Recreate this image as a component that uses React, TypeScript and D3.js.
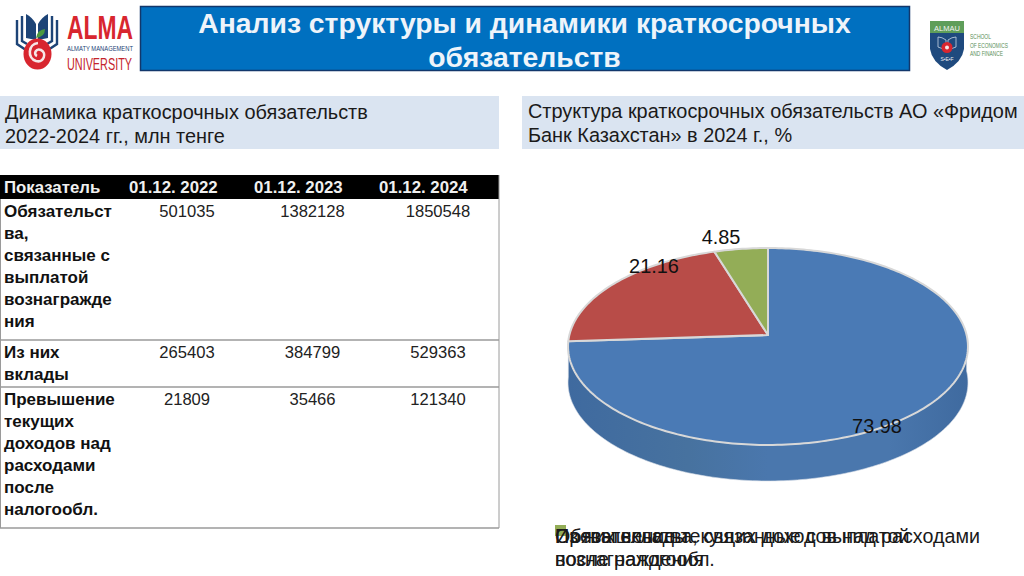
import * as d3 from 'd3';
import { useRef, useEffect } from 'react';

const FONT = '"Liberation Sans", Arial, sans-serif';

const titleLines = ['Анализ структуры и динамики краткосрочных', 'обязательств'];
const leftHeading = ['Динамика краткосрочных обязательств', '2022-2024 гг., млн тенге'];
const rightHeading = ['Структура краткосрочных обязательств АО «Фридом', 'Банк Казахстан» в 2024 г., %'];

const tableHeader = ['Показатель', '01.12. 2022', '01.12. 2023', '01.12. 2024'];
const rowLabels = [
  ['Обязательст', 'ва,', 'связанные с', 'выплатой', 'вознагражде', 'ния'],
  ['Из них', 'вклады'],
  ['Превышение', 'текущих', 'доходов над', 'расходами', 'после', 'налогообл.'],
];
const values2022 = [501035, 265403, 21809];
const values2023 = [1382128, 384799, 35466];
const values2024 = [1850548, 529363, 121340];

const pieValues = [73.98, 21.16, 4.85];
const pieColors = ['#4a7ab5', '#b84c48', '#93ad57'];
const legendLabels = [
  ['Обязательства, связанные с выплатой', 'вознаграждения'],
  ['Из них вклады', ''],
  ['Превышение текущих доходов над расходами', 'после налогообл.'],
];

export default function App() {
  const svgRef = useRef<SVGSVGElement | null>(null);

  useEffect(() => {
    const svg = d3.select(svgRef.current).attr('width', 1024).attr('height', 576);
    svg.selectAll('*').remove();
    svg.append('rect').attr('width', 1024).attr('height', 576).attr('fill', '#fff');

    const text = (x: number, y: number, s: string, size: number, opts: any = {}) =>
      svg
        .append('text')
        .attr('x', x)
        .attr('y', y)
        .attr('font-family', opts.family ?? FONT)
        .attr('font-size', size)
        .attr('font-weight', opts.weight ?? 'normal')
        .attr('fill', opts.fill ?? '#1a1a1a')
        .attr('text-anchor', opts.anchor ?? 'start')
        .text(s);

    /* -- Шапка ---------------------------------------------------------------- */
    svg
      .append('rect')
      .attr('x', 140.5)
      .attr('y', 6.5)
      .attr('width', 769)
      .attr('height', 64)
      .attr('fill', '#0070c0')
      .attr('stroke', '#12376b')
      .attr('stroke-width', 1.5);
    titleLines.forEach((t, i) =>
      text(524.5, 33 + i * 34, t, 24 * 1.18, { weight: 'bold', fill: '#eef4fa', anchor: 'middle' }),
    );

    // Логотип слева
    const navy = '#1d4477';
    const book = svg.append('g');
    book.append('path').attr('d', 'M26 14 Q32 17 36 24 L36 40 L26 38 Z').attr('fill', navy);
    book.append('path').attr('d', 'M48 14 Q42 17 38 24 L38 40 L48 38 Z').attr('fill', navy);
    [
      'M17 20 V44 L26 50',
      'M22 16 V41 L27 44',
      'M52 16 V41 L47 44',
      'M57 20 V44 L48 50',
    ].forEach((d) =>
      book.append('path').attr('d', d).attr('fill', 'none').attr('stroke', navy).attr('stroke-width', 2.4),
    );
    book.append('ellipse').attr('cx', 37.5).attr('cy', 54).attr('rx', 14).attr('ry', 15.5).attr('fill', '#d8262f');
    book
      .append('path')
      .attr('d', 'M38 43 C28 44 27 58 36 61 C44 63 47 53 41 50 C36 48 33 54 37 56')
      .attr('fill', 'none')
      .attr('stroke', '#f6e6e6')
      .attr('stroke-width', 2.6);
    book.append('path').attr('d', 'M36 38 Q37 30 45 29 Q45 37 36 38 Z').attr('fill', '#4c9a3f');

    const narrow = '"Liberation Sans Narrow", "Liberation Sans", sans-serif';
    text(67, 39, 'ALMA', 33, { family: narrow, weight: 'bold', fill: '#d8262f' }).attr('textLength', 66).attr('lengthAdjust', 'spacingAndGlyphs');
    text(67, 51, 'ALMATY MANAGEMENT', 8, { family: narrow, fill: navy }).attr('textLength', 66).attr('lengthAdjust', 'spacingAndGlyphs');
    text(67, 70, 'UNIVERSITY', 17, { family: narrow, fill: '#c4242c' }).attr('textLength', 65).attr('lengthAdjust', 'spacingAndGlyphs');

    // Логотип справа
    svg.append('path').attr('d', 'M930 21 H964 V49 Q962 62 947 70 Q932 62 930 49 Z').attr('fill', '#1f4a7e');
    svg.append('path').attr('d', 'M930 21 H964 V33 H930 Z').attr('fill', '#5f9e5a');
    text(947, 31, 'ALMAU', 7.5, { fill: '#f2f2f2', anchor: 'middle' });
    svg
      .append('path')
      .attr('d', 'M938 37 V47 L946 50 V40 Q942 37 938 37 Z M956 37 V47 L948 50 V40 Q952 37 956 37 Z')
      .attr('fill', 'none')
      .attr('stroke', '#c9d6e6')
      .attr('stroke-width', 0.8);
    svg.append('circle').attr('cx', 947).attr('cy', 47.5).attr('r', 5.5).attr('fill', '#d8262f');
    svg.append('circle').attr('cx', 947).attr('cy', 47.5).attr('r', 2).attr('fill', '#f6e6e6');
    text(947, 61, 'S•E•F', 5, { fill: '#e4e9f0', anchor: 'middle' });
    [['SCHOOL', 21], ['OF ECONOMICS', 38], ['AND FINANCE', 33]].forEach(([t, w], i) =>
      text(970, 39 + i * 8.5, t as string, 6.5, { family: narrow, fill: '#5b8f5a' })
        .attr('textLength', w as number)
        .attr('lengthAdjust', 'spacingAndGlyphs'),
    );

    /* -- Подзаголовки --------------------------------------------------------- */
    svg.append('rect').attr('x', 0).attr('y', 96).attr('width', 499).attr('height', 53).attr('fill', '#dae4f1');
    svg.append('rect').attr('x', 522).attr('y', 96).attr('width', 502).attr('height', 53).attr('fill', '#dae4f1');
    leftHeading.forEach((t, i) => text(5, 119 + i * 24, t, 19.9));
    rightHeading.forEach((t, i) => text(528, 118 + i * 24, t, 19.9));

    /* -- Таблица --------------------------------------------------------------- */
    const headerX = [4, 129, 254, 379];
    svg.append('rect').attr('x', 0).attr('y', 175).attr('width', 499).attr('height', 24).attr('fill', '#000');
    tableHeader.forEach((t, i) => text(headerX[i], 193, t, 16.8, { weight: 'bold', fill: '#f0f0f0' }));

    const columnX = d3.scalePoint<number>().domain([0, 1, 2]).range([187, 438]);
    const lineHeight = 22;
    const rowTops = [199, 340, 387];
    const rowBottoms = [340, 387, 528];
    const columns = [values2022, values2023, values2024];
    rowLabels.forEach((lines, r) => {
      lines.forEach((l, i) =>
        text(4, rowTops[r] + 18 + i * lineHeight, l, 17, { weight: 'bold', fill: '#111' }),
      );
      columns.forEach((col, c) =>
        text(columnX(c) ?? 0, rowTops[r] + 18, String(col[r]), 16.6, { anchor: 'middle', fill: '#222' }),
      );
      svg
        .append('line')
        .attr('x1', 0)
        .attr('x2', 499)
        .attr('y1', rowBottoms[r])
        .attr('y2', rowBottoms[r])
        .attr('stroke', '#9a9a9a')
        .attr('stroke-width', 1.5);
    });
    svg
      .append('path')
      .attr('d', 'M0.5 199 V528 M499 175 V528')
      .attr('stroke', '#9a9a9a')
      .attr('fill', 'none');

    /* -- Круговая диаграмма ----------------------------------------------------- */
    // Перспектива: центр круга (вершина секторов) выше центра эллипса
    const cx = 768;
    const apexY = 335;
    const scaleX = 198.6;
    const scaleY = 58;
    const k = -0.1168;
    const depth = 36;
    const project = (a: number): [number, number] => {
      const u = Math.sin(a);
      const v = -Math.cos(a);
      const w = 1 + k * v;
      return [cx + (scaleX * u) / w, (apexY + scaleY * v) / w];
    };
    const sweep = (a0: number, a1: number) => d3.range(a0, a1, 0.02).concat(a1);

    const defs = svg.append('defs');
    const grad = defs.append('linearGradient').attr('id', 'wall');
    [
      [0, '#3f6a9f'],
      [0.3, '#47729f'],
      [0.5, '#4a77ad'],
      [0.8, '#4a77ad'],
      [1, '#3f6a9f'],
    ].forEach(([o, c]) => grad.append('stop').attr('offset', o as number).attr('stop-color', c as string));

    const arcs = d3.pie<number>().sort(null)(pieValues);

    // Боковая стенка: от правого края до конца синего сектора
    const wall = d3
      .area<number>()
      .x((a) => project(a)[0])
      .y0((a) => project(a)[1])
      .y1((a) => project(a)[1] + depth);
    svg
      .append('path')
      .attr('d', wall(sweep(Math.PI / 2, arcs[0].endAngle)))
      .attr('fill', 'url(#wall)')
      .attr('stroke', '#d5dce6')
      .attr('stroke-width', 0.6);

    const line = d3.line();
    arcs.forEach((d, i) => {
      const rim = sweep(d.startAngle, d.endAngle).map(project);
      svg
        .append('path')
        .attr('d', `${line(rim)}L${cx},${apexY}Z`)
        .attr('fill', pieColors[i])
        .attr('stroke', '#d8d8d8')
        .attr('stroke-width', 2)
        .attr('stroke-linejoin', 'round');
    });

    // Подписи значений
    const labelPos = [
      [877, 433],
      [654, 273],
      [721, 244],
    ];
    pieValues.forEach((v, i) =>
      text(labelPos[i][0], labelPos[i][1], v.toFixed(2), 19.9, { anchor: 'middle', fill: '#111' }),
    );

    /* -- Легенда (записи наложены друг на друга, как в оригинале) --------------- */
    pieColors.forEach((c) =>
      svg.append('rect').attr('x', 555).attr('y', 525).attr('width', 11).attr('height', 11).attr('fill', c),
    );
    legendLabels.forEach((lines) =>
      lines.forEach((l, i) => text(555, 543 + i * 23, l, 19.7, { fill: '#1a1a1a' })),
    );
  }, []);

  return (
    <div style={{ position: 'fixed', left: 0, top: 0 }}>
      <svg ref={svgRef} style={{ display: 'block' }} />
    </div>
  );
}
